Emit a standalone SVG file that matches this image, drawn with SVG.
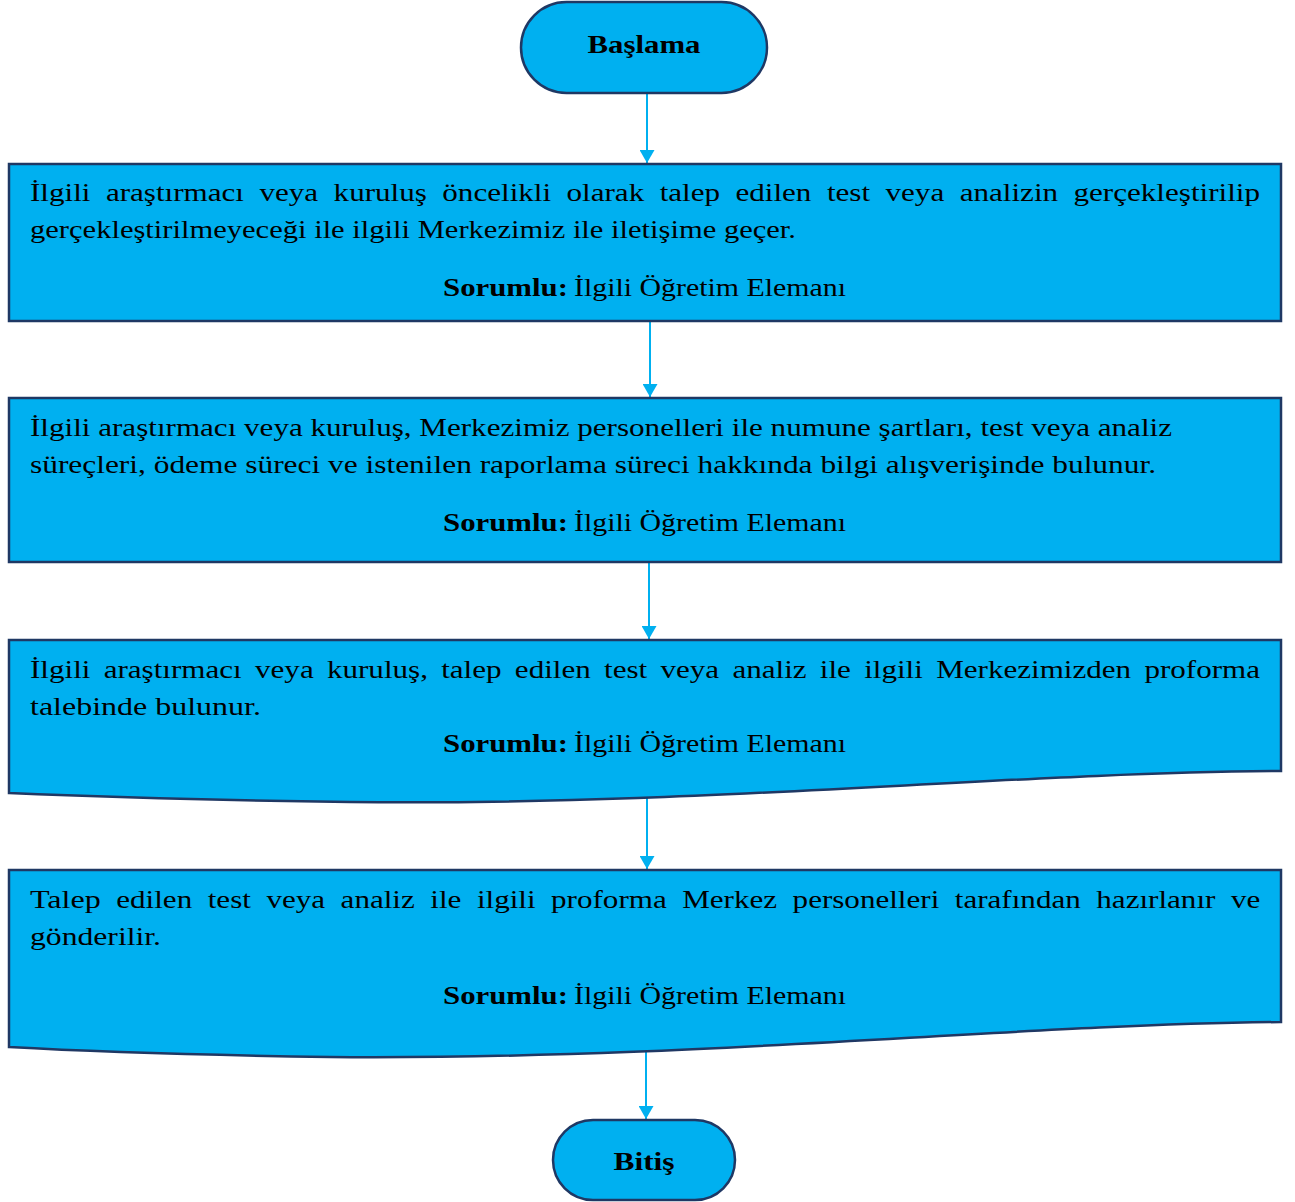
<svg xmlns="http://www.w3.org/2000/svg" width="1295" height="1202" viewBox="0 0 1295 1202">
<style>
.shape{fill:#00B0F0;stroke:#1F3864;stroke-width:2.5}
.conn{stroke:#00B0F0;stroke-width:2;fill:none}
.t{font-family:"Liberation Serif","DejaVu Serif",serif;font-size:25px;fill:#000}
.b{font-weight:bold}
</style>
<defs>
<marker id="arr" markerWidth="13" markerHeight="15" refX="13" refY="7.5" orient="auto" markerUnits="userSpaceOnUse" viewBox="0 0 13 15">
<path d="M0,0 L13,7.5 L0,15 Z" fill="#00B0F0"/>
</marker>
</defs>
<rect width="1295" height="1202" fill="#fff"/>
<g id="connectors">
<line class="conn" x1="647" y1="93" x2="647" y2="163" marker-end="url(#arr)"/>
<line class="conn" x1="650" y1="322" x2="650" y2="397" marker-end="url(#arr)"/>
<line class="conn" x1="649" y1="563" x2="649" y2="639" marker-end="url(#arr)"/>
<line class="conn" x1="647" y1="795" x2="647" y2="869" marker-end="url(#arr)"/>
<line class="conn" x1="646" y1="1048" x2="646" y2="1119" marker-end="url(#arr)"/>
</g>
<g id="start">
<rect class="shape" x="521" y="2" width="246" height="91" rx="45.5"/>
<text class="t b" x="644" y="53" text-anchor="middle" textLength="113" lengthAdjust="spacingAndGlyphs">Başlama</text>
</g>
<g id="step1">
<rect class="shape" x="9" y="164" width="1272" height="157"/>
<g lengthAdjust="spacingAndGlyphs">
<text class="t" x="30" y="201" textLength="60.4" lengthAdjust="spacingAndGlyphs">İlgili</text>
<text class="t" x="105.9" y="201" textLength="138.1" lengthAdjust="spacingAndGlyphs">araştırmacı</text>
<text class="t" x="259.4" y="201" textLength="58.7" lengthAdjust="spacingAndGlyphs">veya</text>
<text class="t" x="333.6" y="201" textLength="93.2" lengthAdjust="spacingAndGlyphs">kuruluş</text>
<text class="t" x="442.3" y="201" textLength="108.8" lengthAdjust="spacingAndGlyphs">öncelikli</text>
<text class="t" x="566.5" y="201" textLength="77.7" lengthAdjust="spacingAndGlyphs">olarak</text>
<text class="t" x="659.7" y="201" textLength="60.4" lengthAdjust="spacingAndGlyphs">talep</text>
<text class="t" x="735.5" y="201" textLength="75.9" lengthAdjust="spacingAndGlyphs">edilen</text>
<text class="t" x="826.9" y="201" textLength="43.2" lengthAdjust="spacingAndGlyphs">test</text>
<text class="t" x="885.5" y="201" textLength="58.7" lengthAdjust="spacingAndGlyphs">veya</text>
<text class="t" x="959.7" y="201" textLength="98.4" lengthAdjust="spacingAndGlyphs">analizin</text>
<text class="t" x="1073.5" y="201" textLength="186.5" lengthAdjust="spacingAndGlyphs">gerçekleştirilip</text>
</g>
<text class="t" x="30" y="238" textLength="766" lengthAdjust="spacingAndGlyphs">gerçekleştirilmeyeceği ile ilgili Merkezimiz ile iletişime geçer.</text>
<text class="t b" x="443" y="296" textLength="125" lengthAdjust="spacingAndGlyphs">Sorumlu:</text>
<text class="t" x="574" y="296" textLength="272" lengthAdjust="spacingAndGlyphs">İlgili Öğretim Elemanı</text>
</g>
<g id="step2">
<rect class="shape" x="9" y="398" width="1272" height="164"/>
<text class="t" x="30" y="436" textLength="1142" lengthAdjust="spacingAndGlyphs">İlgili araştırmacı veya kuruluş, Merkezimiz personelleri ile numune şartları, test veya analiz</text>
<text class="t" x="30" y="473" textLength="1126" lengthAdjust="spacingAndGlyphs">süreçleri, ödeme süreci ve istenilen raporlama süreci hakkında bilgi alışverişinde bulunur.</text>
<text class="t b" x="443" y="531" textLength="125" lengthAdjust="spacingAndGlyphs">Sorumlu:</text>
<text class="t" x="574" y="531" textLength="272" lengthAdjust="spacingAndGlyphs">İlgili Öğretim Elemanı</text>
</g>
<g id="step3">
<path class="shape" d="M9,640 H1281 V771 C1000,773 700,806 350,802 C200,800 80,796 9,793 Z"/>
<text class="t" x="30" y="678" textLength="60.4" lengthAdjust="spacingAndGlyphs">İlgili</text>
<text class="t" x="103.65" y="678" textLength="138.1" lengthAdjust="spacingAndGlyphs">araştırmacı</text>
<text class="t" x="255" y="678" textLength="58.7" lengthAdjust="spacingAndGlyphs">veya</text>
<text class="t" x="326.95" y="678" textLength="101" lengthAdjust="spacingAndGlyphs">kuruluş,</text>
<text class="t" x="441.2" y="678" textLength="60.4" lengthAdjust="spacingAndGlyphs">talep</text>
<text class="t" x="514.85" y="678" textLength="75.9" lengthAdjust="spacingAndGlyphs">edilen</text>
<text class="t" x="604" y="678" textLength="43.2" lengthAdjust="spacingAndGlyphs">test</text>
<text class="t" x="660.45" y="678" textLength="58.7" lengthAdjust="spacingAndGlyphs">veya</text>
<text class="t" x="732.4" y="678" textLength="74.2" lengthAdjust="spacingAndGlyphs">analiz</text>
<text class="t" x="819.85" y="678" textLength="31.1" lengthAdjust="spacingAndGlyphs">ile</text>
<text class="t" x="864.2" y="678" textLength="58.7" lengthAdjust="spacingAndGlyphs">ilgili</text>
<text class="t" x="936.15" y="678" textLength="195" lengthAdjust="spacingAndGlyphs">Merkezimizden</text>
<text class="t" x="1144.4" y="678" textLength="115.6" lengthAdjust="spacingAndGlyphs">proforma</text>
<text class="t" x="30" y="715" textLength="231" lengthAdjust="spacingAndGlyphs">talebinde bulunur.</text>
<text class="t b" x="443" y="752" textLength="125" lengthAdjust="spacingAndGlyphs">Sorumlu:</text>
<text class="t" x="574" y="752" textLength="272" lengthAdjust="spacingAndGlyphs">İlgili Öğretim Elemanı</text>
</g>
<g id="step4">
<path class="shape" d="M9,870 H1281 V1022 C1000,1025 700,1060 330,1057 C200,1055 80,1051 9,1047 Z"/>
<text class="t" x="30" y="908" textLength="70.8" lengthAdjust="spacingAndGlyphs">Talep</text>
<text class="t" x="116.3" y="908" textLength="75.9" lengthAdjust="spacingAndGlyphs">edilen</text>
<text class="t" x="207.7" y="908" textLength="43.2" lengthAdjust="spacingAndGlyphs">test</text>
<text class="t" x="266.4" y="908" textLength="58.7" lengthAdjust="spacingAndGlyphs">veya</text>
<text class="t" x="340.6" y="908" textLength="74.2" lengthAdjust="spacingAndGlyphs">analiz</text>
<text class="t" x="430.3" y="908" textLength="31.1" lengthAdjust="spacingAndGlyphs">ile</text>
<text class="t" x="476.9" y="908" textLength="58.7" lengthAdjust="spacingAndGlyphs">ilgili</text>
<text class="t" x="551.1" y="908" textLength="115.6" lengthAdjust="spacingAndGlyphs">proforma</text>
<text class="t" x="682.2" y="908" textLength="94.9" lengthAdjust="spacingAndGlyphs">Merkez</text>
<text class="t" x="792.6" y="908" textLength="146.7" lengthAdjust="spacingAndGlyphs">personelleri</text>
<text class="t" x="954.8" y="908" textLength="126" lengthAdjust="spacingAndGlyphs">tarafından</text>
<text class="t" x="1096.3" y="908" textLength="119.1" lengthAdjust="spacingAndGlyphs">hazırlanır</text>
<text class="t" x="1230.9" y="908" textLength="29.3" lengthAdjust="spacingAndGlyphs">ve</text>
<text class="t" x="30" y="945" textLength="131" lengthAdjust="spacingAndGlyphs">gönderilir.</text>
<text class="t b" x="443" y="1004" textLength="125" lengthAdjust="spacingAndGlyphs">Sorumlu:</text>
<text class="t" x="574" y="1004" textLength="272" lengthAdjust="spacingAndGlyphs">İlgili Öğretim Elemanı</text>
</g>
<g id="end">
<rect class="shape" x="553" y="1120" width="182" height="80" rx="40"/>
<text class="t b" x="644" y="1170" text-anchor="middle" textLength="61" lengthAdjust="spacingAndGlyphs">Bitiş</text>
</g>
</svg>
